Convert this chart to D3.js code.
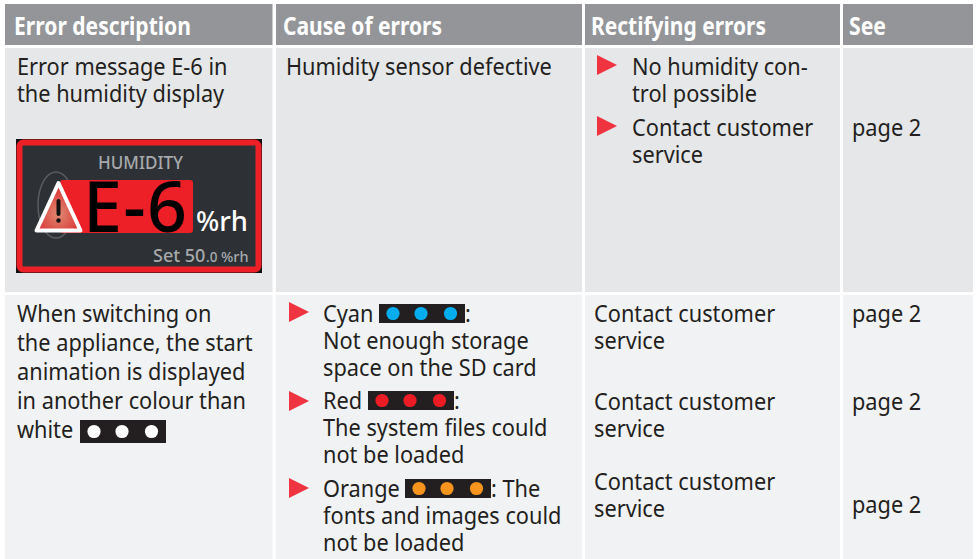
<!DOCTYPE html>
<html>
<head>
<meta charset="utf-8">
<script src="https://cdn.jsdelivr.net/npm/d3@7"></script>
<style>
  html, body { margin: 0; padding: 0; background: #fff; }
  svg { display: block; }
  text { font-family: "Noto Sans", sans-serif; }
</style>
</head>
<body>
<svg></svg>
<script>
var headers = ["Error description", "Cause of errors", "Rectifying errors", "See"];
var errorOne = ["Error message E-6 in", "the humidity display"];
var causeOne = ["Humidity sensor defective"];
var fixOne = [["No humidity con-", "trol possible"], ["Contact customer", "service"]];
var errorTwo = ["When switching on", "the appliance, the start", "animation is displayed", "in another colour than", "white"];
var causeNames = ["Cyan", "Red", "Orange"];
var causeColours = ["#00aeef", "#ed1c24", "#f7941d"];
var causeTails = [":", ":", ": The"];
var causeLines = [["Not enough storage", "space on the SD card"], ["The system files could", "not be loaded"], ["fonts and images could", "not be loaded"]];
var fixLine = ["Contact customer", "service"];
var pageLabel = "page 2";

var screen = { width: 976, height: 559 };
var ink = "#231f20";
var leading = 27;
var squeeze = 0.945; // the original face is narrower than Noto Sans

var svg = d3.select("svg").attr("width", screen.width).attr("height", screen.height);

// cells
var colX = [5, 276, 585, 843];
var colW = [267.5, 306, 255, 130];
var rowY = [4, 48, 295];
var rowH = [41, 244, 264];
var rowFill = ["#939598", "#e6e7e8", "#f1f2f4"];

rowY.forEach(function(y, r) {
  svg.append("g").selectAll("rect")
    .data(colX)
    .enter()
    .append("rect")
    .attr("x", function(d) { return d; })
    .attr("y", y)
    .attr("width", function(d, i) { return colW[i]; })
    .attr("height", rowH[r])
    .attr("fill", rowFill[r]);
});

// header
var headX = [14, 283, 591, 849];
var headW = [177, 159, 175, 37];
svg.append("g").selectAll("text")
  .data(headers)
  .enter()
  .append("text")
  .attr("x", function(d, i) { return headX[i]; })
  .attr("y", 35)
  .attr("textLength", function(d, i) { return headW[i]; })
  .attr("lengthAdjust", "spacingAndGlyphs")
  .attr("font-size", 25)
  .attr("font-weight", 700)
  .attr("fill", "#fff")
  .text(function(d) { return d; });

var block = function(x, y, lines) {
  svg.append("g").selectAll("text")
    .data(lines)
    .enter()
    .append("text")
    .attr("x", x)
    .attr("y", function(d, i) { return y + i * leading; })
    .attr("font-size", 23)
    .attr("fill", ink)
    .text(function(d) { return d; })
    .attr("lengthAdjust", "spacingAndGlyphs")
    .attr("textLength", function() { return this.getComputedTextLength() * squeeze; });
};

var bullet = function(x, y) {
  var p = d3.path();
  p.moveTo(x, y);
  p.lineTo(x + 20, y + 10);
  p.lineTo(x, y + 20);
  p.closePath();
  svg.append("path").attr("d", p.toString()).attr("fill", "#ef3340");
};

var chip = function(x, y, colour, dots) {
  var g = svg.append("g").attr("transform", "translate(" + x + "," + y + ")");
  g.append("rect").attr("width", 86).attr("height", dots.h).attr("fill", ink);
  g.selectAll("circle")
    .data([14, 42, 71.5])
    .enter()
    .append("circle")
    .attr("cx", function(d) { return d; })
    .attr("cy", dots.h / 2)
    .attr("r", 6.6)
    .attr("fill", colour);
};

// row one
block(17, 75, errorOne);
block(286, 75, causeOne);
bullet(597, 55);
block(632, 75, fixOne[0]);
bullet(597, 116);
block(632, 136, fixOne[1]);
block(852, 136, [pageLabel]);

// humidity display
var disp = svg.append("g");
disp.append("rect").attr("x", 16).attr("y", 139).attr("width", 246).attr("height", 134).attr("fill", "#111");
disp.append("rect").attr("x", 19.5).attr("y", 142.5).attr("width", 239).attr("height", 127).attr("rx", 4)
  .attr("fill", "#2d3135").attr("stroke", "#ed2027").attr("stroke-width", 6);
disp.append("text").attr("x", 98).attr("y", 169)
  .attr("font-size", 18).attr("font-family", "Roboto").attr("font-weight", 500)
  .attr("textLength", 85).attr("lengthAdjust", "spacingAndGlyphs")
  .attr("fill", "#a7a9ac").text("HUMIDITY");
disp.append("ellipse").attr("cx", 56).attr("cy", 205).attr("rx", 18).attr("ry", 33)
  .attr("fill", "none").attr("stroke", "#5a5d60").attr("stroke-width", 1.5);
disp.append("rect").attr("x", 60).attr("y", 180).attr("width", 133).attr("height", 53).attr("rx", 3).attr("fill", "#ed2027");
disp.append("text").attr("x", 83).attr("y", 232).attr("font-size", 70).attr("font-family", "Roboto").attr("font-weight", 500)
  .attr("textLength", 104).attr("lengthAdjust", "spacing")
  .attr("fill", "#000").text("E-6");
disp.append("text").attr("x", 196).attr("y", 231).attr("font-size", 27).attr("font-family", "Roboto").attr("font-weight", 500)
  .attr("textLength", 52).attr("lengthAdjust", "spacingAndGlyphs")
  .attr("fill", "#fff").text("%rh");

var grad = svg.append("defs").append("radialGradient").attr("id", "warn").attr("cx", "50%").attr("cy", "65%").attr("r", "60%");
grad.append("stop").attr("offset", "0%").attr("stop-color", "#e08a72");
grad.append("stop").attr("offset", "100%").attr("stop-color", "#d92b2f");
var tri = d3.path();
tri.moveTo(58.5, 183);
tri.lineTo(80.5, 230.5);
tri.lineTo(36.5, 230.5);
tri.closePath();
disp.append("path").attr("d", tri.toString()).attr("fill", "url(#warn)")
  .attr("stroke", "#fff").attr("stroke-width", 4).attr("stroke-linejoin", "round");
disp.append("path").attr("d", "M58.5 201V214").attr("stroke", "#111").attr("stroke-width", 4).attr("stroke-linecap", "round");
disp.append("circle").attr("cx", 58.5).attr("cy", 220.5).attr("r", 2.2).attr("fill", "#111");

var setText = disp.append("text").attr("y", 262).attr("font-family", "Roboto").attr("font-weight", 500).attr("fill", "#a7a9ac");
setText.append("tspan").attr("x", 153).attr("font-size", 18).text("Set 50");
setText.append("tspan").attr("x", 206).attr("font-size", 13.5).text(".0");
setText.append("tspan").attr("x", 221).attr("font-size", 14.5).text("%rh");

// row two
block(17, 322, errorTwo.slice(0, 1));
block(17, 351, errorTwo.slice(1, 2));
block(17, 380, errorTwo.slice(2, 3));
block(17, 409, errorTwo.slice(3, 4));
block(17, 438, errorTwo.slice(4));
chip(80, 420, "#fff", { h: 23 });

var causeTop = [302, 391, 478];
var nameY = [322, 409, 497];
var chipX = [379, 368, 405];
causeNames.forEach(function(name, i) {
  bullet(289, causeTop[i]);
  block(323, nameY[i], [name]);
  chip(chipX[i], nameY[i] - 18, causeColours[i], { h: 19 });
  block(chipX[i] + 86, nameY[i], [causeTails[i]]);
  block(323, nameY[i] + leading, causeLines[i]);
});

var fixY = [322, 410, 490];
var pageY = [322, 410, 513];
fixY.forEach(function(y, i) {
  block(594, y, fixLine);
  block(852, pageY[i], [pageLabel]);
});
</script>
</body>
</html>
